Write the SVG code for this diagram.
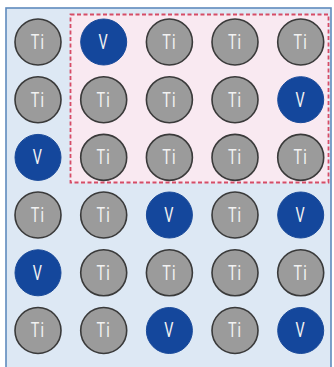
<svg xmlns="http://www.w3.org/2000/svg" width="334" height="367" viewBox="0 0 334 367">
<style>
.ti circle{fill:#9b9b9b;stroke:#3a3a3a;stroke-width:1.6}
.v circle{fill:#14479c;stroke:#1a4a9a;stroke-width:1}
text{font-family:"Roboto","Liberation Sans",sans-serif;font-size:20px;text-anchor:middle;dominant-baseline:central;fill:#f2f2f2;transform-box:fill-box;transform-origin:center;transform:scaleX(0.72);letter-spacing:1.5px}
</style>
<rect x="6" y="8" width="325" height="362" fill="#dde8f4" stroke="#5f8bbd" stroke-width="1.6"/>
<rect x="70.5" y="14.5" width="258" height="168" fill="#f9e9f1" stroke="#d64c66" stroke-width="1.8" stroke-dasharray="4,2.5"/>
<g id="n11" class="ti"><circle cx="38" cy="42" r="23"/><text x="38" y="42">Ti</text></g>
<g id="n12" class="v"><circle cx="103.7" cy="42" r="23"/><text x="103.7" y="42">V</text></g>
<g id="n13" class="ti"><circle cx="169.4" cy="42" r="23"/><text x="169.4" y="42">Ti</text></g>
<g id="n14" class="ti"><circle cx="235" cy="42" r="23"/><text x="235" y="42">Ti</text></g>
<g id="n15" class="ti"><circle cx="300.7" cy="42" r="23"/><text x="300.7" y="42">Ti</text></g>
<g id="n21" class="ti"><circle cx="38" cy="99.7" r="23"/><text x="38" y="99.7">Ti</text></g>
<g id="n22" class="ti"><circle cx="103.7" cy="99.7" r="23"/><text x="103.7" y="99.7">Ti</text></g>
<g id="n23" class="ti"><circle cx="169.4" cy="99.7" r="23"/><text x="169.4" y="99.7">Ti</text></g>
<g id="n24" class="ti"><circle cx="235" cy="99.7" r="23"/><text x="235" y="99.7">Ti</text></g>
<g id="n25" class="v"><circle cx="300.7" cy="99.7" r="23"/><text x="300.7" y="99.7">V</text></g>
<g id="n31" class="v"><circle cx="38" cy="157.4" r="23"/><text x="38" y="157.4">V</text></g>
<g id="n32" class="ti"><circle cx="103.7" cy="157.4" r="23"/><text x="103.7" y="157.4">Ti</text></g>
<g id="n33" class="ti"><circle cx="169.4" cy="157.4" r="23"/><text x="169.4" y="157.4">Ti</text></g>
<g id="n34" class="ti"><circle cx="235" cy="157.4" r="23"/><text x="235" y="157.4">Ti</text></g>
<g id="n35" class="ti"><circle cx="300.7" cy="157.4" r="23"/><text x="300.7" y="157.4">Ti</text></g>
<g id="n41" class="ti"><circle cx="38" cy="215" r="23"/><text x="38" y="215">Ti</text></g>
<g id="n42" class="ti"><circle cx="103.7" cy="215" r="23"/><text x="103.7" y="215">Ti</text></g>
<g id="n43" class="v"><circle cx="169.4" cy="215" r="23"/><text x="169.4" y="215">V</text></g>
<g id="n44" class="ti"><circle cx="235" cy="215" r="23"/><text x="235" y="215">Ti</text></g>
<g id="n45" class="v"><circle cx="300.7" cy="215" r="23"/><text x="300.7" y="215">V</text></g>
<g id="n51" class="v"><circle cx="38" cy="272.8" r="23"/><text x="38" y="272.8">V</text></g>
<g id="n52" class="ti"><circle cx="103.7" cy="272.8" r="23"/><text x="103.7" y="272.8">Ti</text></g>
<g id="n53" class="ti"><circle cx="169.4" cy="272.8" r="23"/><text x="169.4" y="272.8">Ti</text></g>
<g id="n54" class="ti"><circle cx="235" cy="272.8" r="23"/><text x="235" y="272.8">Ti</text></g>
<g id="n55" class="ti"><circle cx="300.7" cy="272.8" r="23"/><text x="300.7" y="272.8">Ti</text></g>
<g id="n61" class="ti"><circle cx="38" cy="330.5" r="23"/><text x="38" y="330.5">Ti</text></g>
<g id="n62" class="ti"><circle cx="103.7" cy="330.5" r="23"/><text x="103.7" y="330.5">Ti</text></g>
<g id="n63" class="v"><circle cx="169.4" cy="330.5" r="23"/><text x="169.4" y="330.5">V</text></g>
<g id="n64" class="ti"><circle cx="235" cy="330.5" r="23"/><text x="235" y="330.5">Ti</text></g>
<g id="n65" class="v"><circle cx="300.7" cy="330.5" r="23"/><text x="300.7" y="330.5">V</text></g>
<g id="connectors"></g>
</svg>
